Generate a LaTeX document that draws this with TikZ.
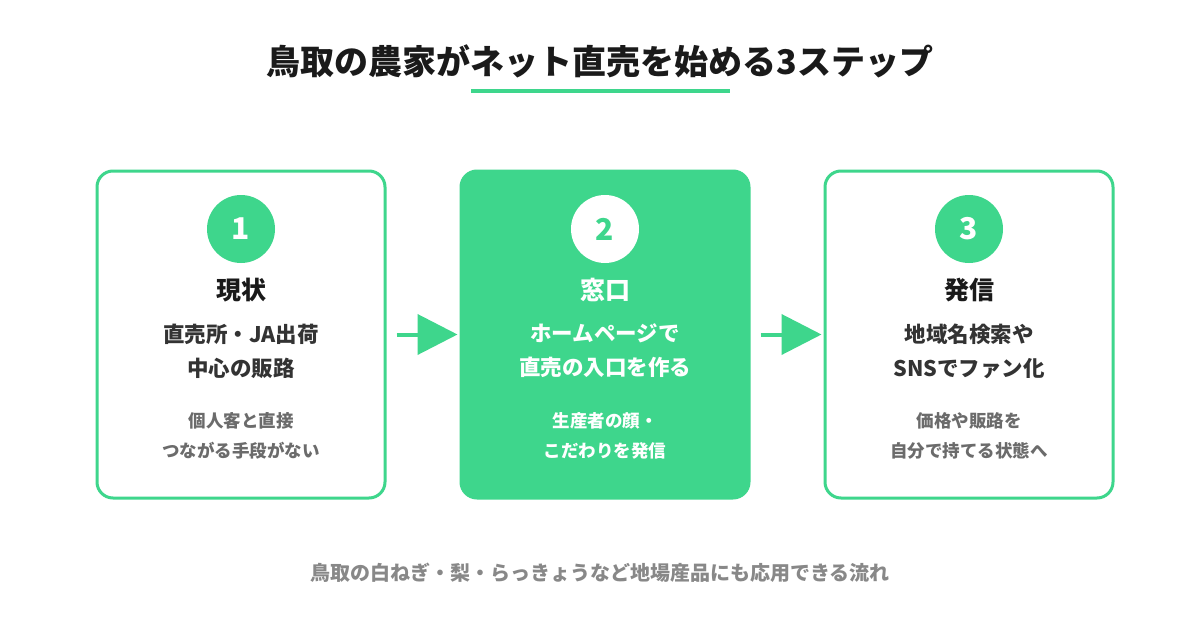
\documentclass[tikz,border=0pt]{standalone}
\usepackage{fontspec}
\setmainfont{Noto Sans CJK JP}
\usepackage{xcolor}
\usepackage{tikz}
\usetikzlibrary{
  positioning,
  arrows.meta
}
\definecolor{leaf}{HTML}{3ED68C}
\definecolor{ink}{HTML}{1A1A1A}
\definecolor{inksub}{HTML}{333333}
\definecolor{inkgray}{HTML}{6B6B6B}
\definecolor{inkfoot}{HTML}{888888}
\tikzset{
  flowarrow/.style={-{Triangle[length=40pt,width=40pt]},line width=4pt,draw=leaf,fill=leaf,shorten <=10pt,shorten >=2pt},
  card/.style={rectangle,rounded corners=16pt,line width=3pt,draw=leaf,fill=white,minimum width=288pt,minimum height=327pt},
  cardon/.style={card,fill=leaf},
  numdot/.style={circle,fill=leaf,text=white,minimum size=68pt,inner sep=0pt,font=\fontsize{30}{30}\selectfont\bfseries},
  numdoton/.style={numdot,fill=white,text=leaf},
  heading/.style={align=center,text=ink,inner sep=0pt,font=\fontsize{25}{30}\selectfont\bfseries},
  subtext/.style={align=center,text=inksub,inner sep=0pt,font=\fontsize{21.5}{34}\selectfont\bfseries},
  note/.style={align=center,text=inkgray,inner sep=0pt,font=\fontsize{17.5}{30}\selectfont\bfseries}
}

\begin{document}
\begin{tikzpicture}[x=1pt, y=-1pt, node distance=60pt, on grid]
    \useasboundingbox[fill=white] (0,0) rectangle (1200,640);

    % title
    \node[text=ink,font=\fontsize{34}{40}\selectfont\bfseries] (title) at (600,61) {鳥取の農家がネット直売を始める3ステップ};
    \coordinate (ulstart) at (471,91);
    \coordinate (ulend) at (730,91);
    \draw[leaf,line width=4pt] (ulstart) -- (ulend);

    % cards
    \node[card] (genjo) at (241,334.5) {};
    \node[cardon] (madoguchi) at (605,334.5) {};
    \node[card] (hasshin) at (969,334.5) {};

    % step 1
    \node[numdot] (num1) at (241,229) {1};
    \node[heading,below=61pt of num1] (head1) {現状};
    \node[subtext,below=61pt of head1] (sub1) {直売所・JA出荷\\中心の販路};
    \node[note,below=85pt of sub1] (note1) {個人客と直接\\つながる手段がない};

    % step 2
    \node[numdoton] (num2) at (605,229) {2};
    \node[heading,text=white,below=61pt of num2] (head2) {窓口};
    \node[subtext,text=white,below=61pt of head2] (sub2) {ホームページで\\直売の入口を作る};
    \node[note,text=white,below=85pt of sub2] (note2) {生産者の顔・\\こだわりを発信};

    % step 3
    \node[numdot] (num3) at (969,229) {3};
    \node[heading,below=61pt of num3] (head3) {発信};
    \node[subtext,below=61pt of head3] (sub3) {地域名検索や\\SNSでファン化};
    \node[note,below=85pt of sub3] (note3) {価格や販路を\\自分で持てる状態へ};

    \draw[flowarrow] (genjo) -- (madoguchi);
    \draw[flowarrow] (madoguchi) -- (hasshin);

    % footer
    \node[text=inkfoot,font=\fontsize{20}{24}\selectfont\bfseries] (foot) at (600,573) {鳥取の白ねぎ・梨・らっきょうなど地場産品にも応用できる流れ};
\end{tikzpicture}
\end{document}
